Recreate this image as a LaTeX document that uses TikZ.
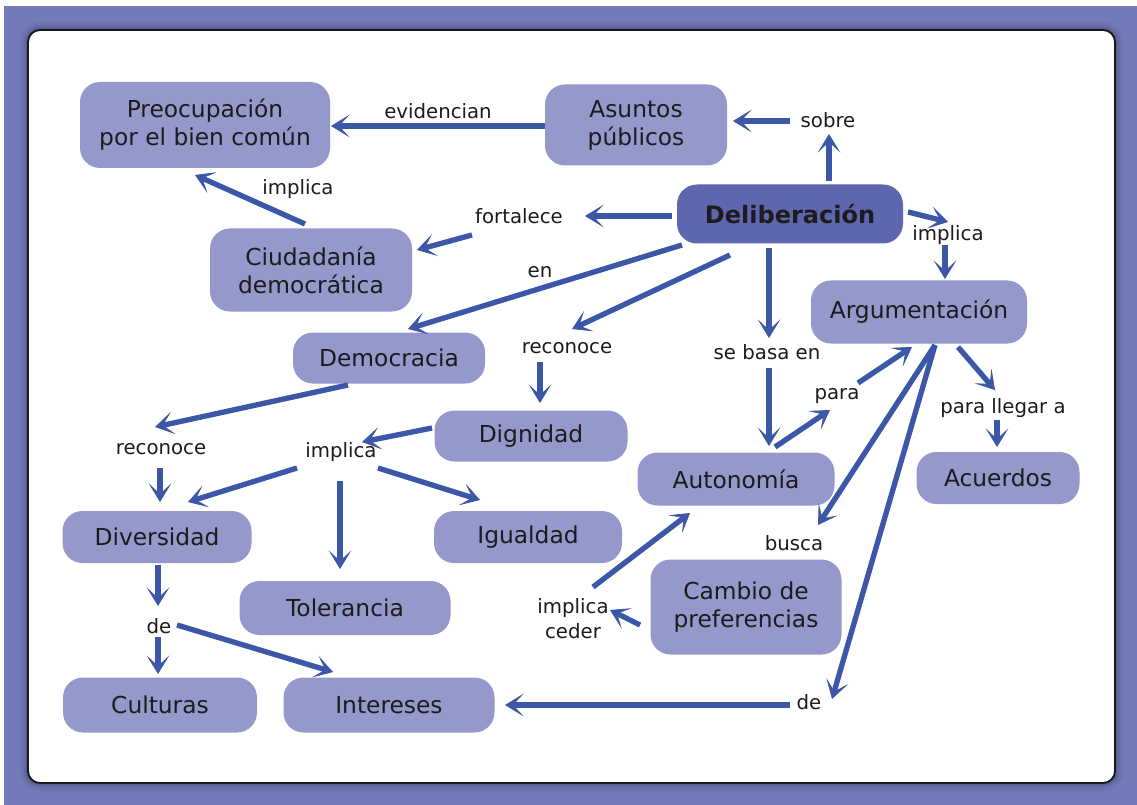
\documentclass[tikz,border=0pt]{standalone}
\usepackage{fontspec}
\setmainfont{DejaVu Sans}
\usetikzlibrary{arrows.meta}
\definecolor{frameblue}{HTML}{727ABA}
\definecolor{boxfill}{HTML}{9498CB}
\definecolor{keyfill}{HTML}{5E66B0}
\definecolor{linkblue}{HTML}{3C56A8}
\definecolor{ink}{HTML}{1E1B1C}
\begin{document}
\begin{tikzpicture}[x=0.75pt,y=-0.75pt,
  concept/.style={fill=boxfill, rounded corners=15pt, text=ink, align=center,
    inner sep=0pt, font=\fontsize{17.5}{21}\selectfont},
  sz/.style 2 args={minimum width=#1*0.75pt, minimum height=#2*0.75pt},
  key/.style={concept, fill=keyfill, font=\fontsize{18}{21}\selectfont\bfseries},
  link/.style={text=ink, inner sep=0pt, align=center, font=\fontsize{14.8}{18.75}\selectfont},
  arr/.style={draw=linkblue, line width=4pt,
    -{Stealth[length=14pt,width=17pt,inset=8pt,line width=0.5pt]}},
]
\useasboundingbox (0,0) rectangle (1137,805);
% outer panel and inner card
\fill[white] (0,0) rectangle (1137,805);
\fill[frameblue] (4,6) rectangle (1137,805);
\foreach \w/\o in {12/0.05,7/0.07,3.5/0.1}
  \draw[line width=\w pt, black, opacity=\o, rounded corners=9pt] (28,30) rectangle (1115,783);
\draw[fill=white, draw=black!90, line width=1.4pt, rounded corners=9pt] (28,30) rectangle (1115,783);

% concepts
\node[concept, sz={250}{86}] (preo) at (205,125) {Preocupación\\por el bien común};
\node[concept, sz={182}{81}] (asuntos) at (636,125) {Asuntos\\públicos};
\node[key, sz={226}{59}] (delib) at (790,214) {Deliberación};
\node[concept, sz={202}{83}] (ciud) at (311,270) {Ciudadanía\\democrática};
\node[concept, sz={216}{63}] (argum) at (919,312) {Argumentación};
\node[concept, sz={192}{51}] (democ) at (389,358) {Democracia};
\node[concept, sz={193}{51}] (dign) at (531,436) {Dignidad};
\node[concept, sz={197}{53}] (auton) at (736,479) {Autonomía};
\node[concept, sz={163}{52}] (acuer) at (998,478) {Acuerdos};
\node[concept, sz={189}{52}] (divers) at (157,537) {Diversidad};
\node[concept, sz={188}{52}] (igual) at (528,537) {Igualdad};
\node[concept, sz={211}{54}] (toler) at (345,608) {Tolerancia};
\node[concept, sz={191}{95}] (cambio) at (746,607) {Cambio de\\preferencias};
\node[concept, sz={194}{55}] (cult) at (160,705) {Culturas};
\node[concept, sz={211}{55}] (inter) at (389,705) {Intereses};

% linking words
\node[link] (evid) at (438,111) {evidencian};
\node[link] (sobre) at (828,120) {sobre};
\node[link] (impA) at (298,189) {implica};
\node[link] (fort) at (519,216) {fortalece};
\node[link] (impB) at (948,235) {implica};
\node[link] (en) at (540,272) {en};
\node[link] (recA) at (567,348) {reconoce};
\node[link] (basa) at (767,352) {se basa en};
\node[link] (para) at (837,396) {para};
\node[link] (llegar) at (1003,408) {para llegar a};
\node[link] (busca) at (794,543) {busca};
\node[link] (recB) at (161,449) {reconoce};
\node[link] (impC) at (341,452) {implica};
\node[link] (deA) at (159,626) {de};
\node[link] (ceder) at (573,619) {implica\\ceder};
\node[link] (deB) at (809,702) {de};

% connectors
\draw[arr] ([shift={(-91,1)}]asuntos.center) -- ([shift={(126,1)}]preo.center);
\draw[arr] ([shift={(39,-33)}]delib.center) -- ([shift={(1,14)}]sobre.center);
\draw[arr] ([shift={(-38,1)}]sobre.center) -- ([shift={(97,-4)}]asuntos.center);
\draw[arr] ([shift={(-6,-46)}]ciud.center) -- ([shift={(-10,50)}]preo.center);
\draw[arr] ([shift={(-118,2)}]delib.center) -- ([shift={(66,0)}]fort.center);
\draw[arr] ([shift={(-47,19)}]fort.center) -- ([shift={(106,-20)}]ciud.center);
\draw[arr] ([shift={(-108,31)}]delib.center) -- ([shift={(19,-29)}]democ.center);
\draw[arr] ([shift={(-60,41)}]delib.center) -- ([shift={(5,-19)}]recA.center);
\draw[arr] ([shift={(-27,14)}]recA.center) -- ([shift={(9,-33)}]dign.center);
\draw[arr] ([shift={(-21,34)}]delib.center) -- ([shift={(2,-14)}]basa.center);
\draw[arr] ([shift={(2,16)}]basa.center) -- ([shift={(33,-33)}]auton.center);
\draw[arr] ([shift={(118,-2)}]delib.center) -- ([shift={(0,-13)}]impB.center);
\draw[arr] ([shift={(-3,10)}]impB.center) -- ([shift={(26,-33)}]argum.center);
\draw[arr] ([shift={(39,-32)}]auton.center) -- ([shift={(-7,14)}]para.center);
\draw[arr] ([shift={(21,-13)}]para.center) -- ([shift={(-7,35)}]argum.center);
\draw[arr] ([shift={(16,33)}]argum.center) -- ([shift={(24,-18)}]busca.center);
\draw[arr] ([shift={(16,33)}]argum.center) -- ([shift={(23,-3)}]deB.center);
\draw[arr] ([shift={(-19,3)}]deB.center) -- ([shift={(116,0)}]inter.center);
\draw[arr] ([shift={(39,35)}]argum.center) -- ([shift={(-8,-18)}]llegar.center);
\draw[arr] ([shift={(-6,12)}]llegar.center) -- ([shift={(-1,-31)}]acuer.center);
\draw[arr] ([shift={(-106,18)}]cambio.center) -- ([shift={(37,-9)}]ceder.center);
\draw[arr] ([shift={(20,-32)}]ceder.center) -- ([shift={(-46,34)}]auton.center);
\draw[arr] ([shift={(-41,27)}]democ.center) -- ([shift={(-6,-22)}]recB.center);
\draw[arr] ([shift={(-1,19)}]recB.center) -- ([shift={(3,-35)}]divers.center);
\draw[arr] ([shift={(-99,-8)}]dign.center) -- ([shift={(21,-10)}]impC.center);
\draw[arr] ([shift={(-44,16)}]impC.center) -- ([shift={(31,-35)}]divers.center);
\draw[arr] ([shift={(-1,29)}]impC.center) -- ([shift={(-5,-39)}]toler.center);
\draw[arr] ([shift={(37,16)}]impC.center) -- ([shift={(-48,-37)}]igual.center);
\draw[arr] ([shift={(1,28)}]divers.center) -- ([shift={(-1,-20)}]deA.center);
\draw[arr] ([shift={(-1,11)}]deA.center) -- ([shift={(-2,-31)}]cult.center);
\draw[arr] ([shift={(18,-1)}]deA.center) -- ([shift={(-56,-33)}]inter.center);
\end{tikzpicture}
\end{document}
